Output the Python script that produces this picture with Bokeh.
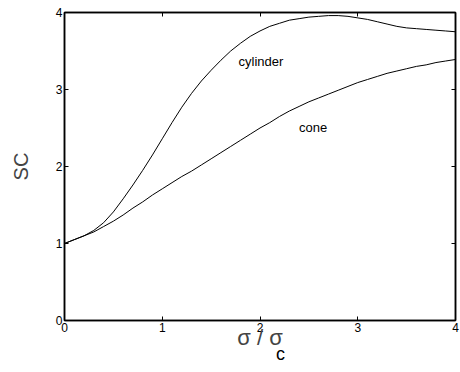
from bokeh.plotting import figure
from bokeh.models import (LinearAxis, FixedTicker, Label, Range1d,
                          CustomJSTickFormatter)
from bokeh.embed import file_html
from bokeh.resources import INLINE

# ---- data ----
x_cyl = [0.0, 0.1, 0.2, 0.3, 0.4, 0.5, 0.6, 0.7, 0.8, 0.9, 1.0,
         1.1, 1.2, 1.3, 1.4, 1.5, 1.6, 1.7, 1.8, 1.9, 2.0,
         2.1, 2.2, 2.3, 2.4, 2.5, 2.6, 2.7, 2.8, 2.9, 3.0,
         3.1, 3.2, 3.3, 3.4, 3.5, 3.6, 3.7, 3.8, 3.9, 4.0]
sc_cyl = [1.00, 1.05, 1.10, 1.17, 1.27, 1.41, 1.58, 1.76, 1.95, 2.15, 2.36,
          2.57, 2.77, 2.95, 3.11, 3.25, 3.38, 3.50, 3.60, 3.69, 3.76,
          3.82, 3.86, 3.90, 3.92, 3.94, 3.95, 3.96, 3.96, 3.95, 3.93,
          3.91, 3.88, 3.85, 3.82, 3.80, 3.79, 3.78, 3.77, 3.76, 3.75]
x_cone = x_cyl
sc_cone = [1.00, 1.05, 1.10, 1.15, 1.22, 1.29, 1.37, 1.46, 1.54, 1.63, 1.71,
           1.79, 1.87, 1.94, 2.02, 2.10, 2.18, 2.26, 2.34, 2.42, 2.50,
           2.57, 2.65, 2.72, 2.78, 2.84, 2.89, 2.94, 2.99, 3.04, 3.09,
           3.13, 3.17, 3.21, 3.24, 3.27, 3.30, 3.32, 3.35, 3.37, 3.39]
ticks = [0, 1, 2, 3, 4]
curve_labels = ["cylinder", "cone"]
label_x = [1.78, 2.40]
label_y = [3.36, 2.51]
subscript_x = 2.21

FONT = "Liberation Sans"

p = figure(width=460, height=372, output_backend="svg", toolbar_location=None,
           x_range=Range1d(0, 4), y_range=Range1d(0, 4),
           min_border_left=64, min_border_right=5, min_border_top=12,
           min_border_bottom=52)
p.background_fill_color = "white"
p.border_fill_color = "white"
p.xgrid.visible = False
p.ygrid.visible = False
p.outline_line_color = "black"
p.outline_line_width = 1.5

p.line(x_cyl, sc_cyl, line_color="black", line_width=1)
p.line(x_cone, sc_cone, line_color="black", line_width=1)

for txt, lx, ly in zip(curve_labels, label_x, label_y):
    p.add_layout(Label(x=lx, y=ly, text=txt, text_font=FONT,
                       text_font_size="13px", text_color="black",
                       text_baseline="alphabetic", text_align="left"))

def style_axis(ax, show_labels=True):
    ax.ticker = FixedTicker(ticks=ticks)
    ax.minor_tick_line_color = None
    ax.major_tick_in = 4
    ax.major_tick_out = 0
    ax.major_tick_line_color = "black"
    ax.axis_line_color = "black"
    ax.axis_line_width = 1.5
    ax.major_label_text_font = FONT
    ax.major_label_text_font_size = "12px"
    ax.major_label_text_color = "black"
    ax.major_label_standoff = 2
    if not show_labels:
        ax.formatter = CustomJSTickFormatter(code="return ''")
        ax.major_label_standoff = 0
        ax.major_label_text_font_size = "1px"

style_axis(p.xaxis[0])
style_axis(p.yaxis[0])

p.xaxis[0].axis_label = "σ / σ"
p.xaxis[0].axis_label_text_font = FONT
p.xaxis[0].axis_label_text_font_size = "22px"
p.xaxis[0].axis_label_text_font_style = "normal"
p.xaxis[0].axis_label_standoff = -10

p.yaxis[0].axis_label = "SC"
p.yaxis[0].axis_label_text_font = FONT
p.yaxis[0].axis_label_text_font_size = "20px"
p.yaxis[0].axis_label_text_font_style = "normal"
p.yaxis[0].axis_label_standoff = 21

right_ax = LinearAxis()
top_ax = LinearAxis()
style_axis(right_ax, show_labels=False)
style_axis(top_ax, show_labels=False)
p.add_layout(right_ax, "right")
p.add_layout(top_ax, "above")

# subscript "c" of the x-axis label, drawn as the single tick label of an extra
# bottom axis (no line, no ticks)
sub_ax = LinearAxis(ticker=FixedTicker(ticks=[subscript_x]),
                    major_label_overrides={subscript_x: "c"})
sub_ax.axis_line_color = None
sub_ax.major_tick_line_color = None
sub_ax.minor_tick_line_color = None
sub_ax.major_tick_in = 0
sub_ax.major_tick_out = 0
sub_ax.major_label_text_font = FONT
sub_ax.major_label_text_font_size = "18px"
sub_ax.major_label_text_color = "black"
sub_ax.major_label_standoff = -9
p.add_layout(sub_ax, "below")

open("out.html", "w").write(file_html(p, INLINE))
